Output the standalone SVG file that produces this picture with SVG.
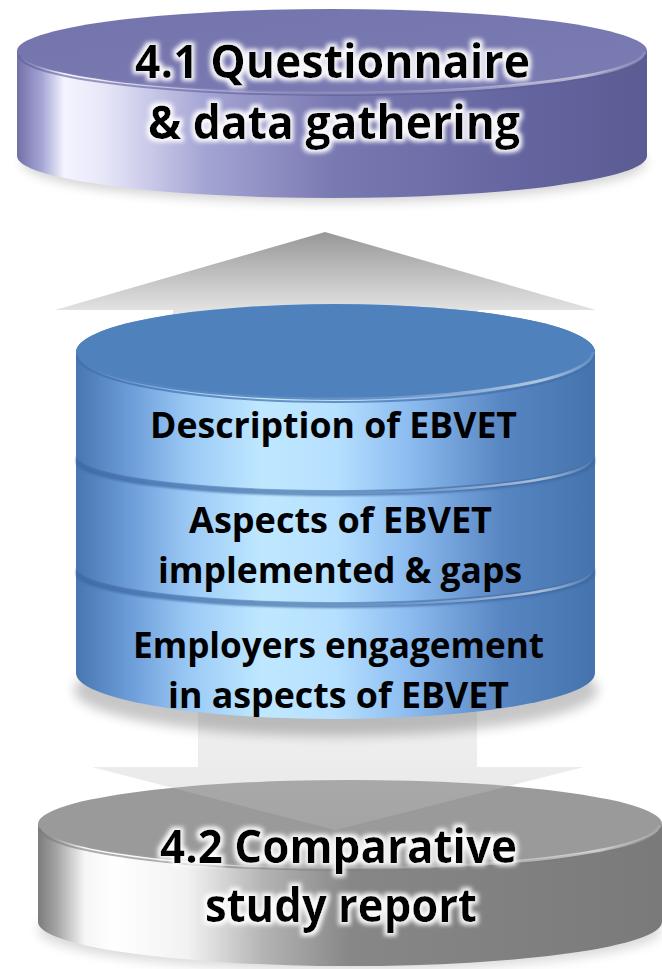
<svg xmlns="http://www.w3.org/2000/svg" width="662" height="969" viewBox="0 0 662 969">
<defs>
<style>
.t{font-family:"Open Sans","Noto Sans","Liberation Sans",sans-serif;font-weight:700;fill:#000;}
.big{font-size:46px;}
.mid{font-size:36px;}
</style>
<filter id="glow" x="-10%" y="-40%" width="120%" height="180%">
<feMorphology in="SourceAlpha" operator="dilate" radius="3" result="d"/>
<feGaussianBlur in="d" stdDeviation="2.2" result="b"/>
<feFlood flood-color="#ffffff" flood-opacity="0.95"/>
<feComposite in2="b" operator="in" result="g"/>
<feMerge><feMergeNode in="g"/><feMergeNode in="SourceGraphic"/></feMerge>
</filter>
<filter id="soft" x="-20%" y="-50%" width="140%" height="200%">
<feGaussianBlur stdDeviation="6"/>
</filter>
<filter id="bandBlur" x="-5%" y="-50%" width="110%" height="200%">
<feGaussianBlur stdDeviation="1.2"/>
</filter>
<linearGradient id="pSide" gradientUnits="userSpaceOnUse" x1="17" y1="0" x2="647" y2="0">
<stop offset="0" stop-color="#7070a6"/>
<stop offset="0.04" stop-color="#a6a6d6"/>
<stop offset="0.075" stop-color="#f4f4ff"/>
<stop offset="0.14" stop-color="#e6e6f8"/>
<stop offset="0.3" stop-color="#a4a4d4"/>
<stop offset="0.5" stop-color="#7a7ab2"/>
<stop offset="0.8" stop-color="#6464a0"/>
<stop offset="1" stop-color="#5c5c94"/>
</linearGradient>
<linearGradient id="pTop" x1="0" y1="0" x2="1" y2="1">
<stop offset="0" stop-color="#7474ac"/>
<stop offset="1" stop-color="#7c7cb4"/>
</linearGradient>
<linearGradient id="bSide" gradientUnits="userSpaceOnUse" x1="76" y1="0" x2="595" y2="0">
<stop offset="0" stop-color="#4776b0"/>
<stop offset="0.1" stop-color="#6b9bd8"/>
<stop offset="0.22" stop-color="#9ccaf6"/>
<stop offset="0.36" stop-color="#bfe8ff"/>
<stop offset="0.5" stop-color="#b6e0ff"/>
<stop offset="0.64" stop-color="#8cbcf0"/>
<stop offset="0.82" stop-color="#5886c2"/>
<stop offset="1" stop-color="#4573ad"/>
</linearGradient>
<linearGradient id="gSide" gradientUnits="userSpaceOnUse" x1="38" y1="0" x2="662" y2="0">
<stop offset="0" stop-color="#7c7c7c"/>
<stop offset="0.03" stop-color="#a4a4a4"/>
<stop offset="0.075" stop-color="#f6f6f6"/>
<stop offset="0.12" stop-color="#ffffff"/>
<stop offset="0.24" stop-color="#f2f2f2"/>
<stop offset="0.36" stop-color="#b4b4b4"/>
<stop offset="0.5" stop-color="#878787"/>
<stop offset="1" stop-color="#7a7a7a"/>
</linearGradient>
<linearGradient id="upArrow" gradientUnits="userSpaceOnUse" x1="0" y1="232" x2="0" y2="312">
<stop offset="0" stop-color="#979797"/>
<stop offset="1" stop-color="#e4e4e4"/>
</linearGradient>
<linearGradient id="downArrow" gradientUnits="userSpaceOnUse" x1="0" y1="700" x2="0" y2="830">
<stop offset="0" stop-color="#d6d6d6"/>
<stop offset="1" stop-color="#b8b8b8"/>
</linearGradient>
<linearGradient id="rimHi" x1="0" y1="0" x2="1" y2="0">
<stop offset="0" stop-color="#ffffff" stop-opacity="0"/>
<stop offset="0.6" stop-color="#ffffff" stop-opacity="0.15"/>
<stop offset="0.9" stop-color="#ffffff" stop-opacity="0.55"/>
<stop offset="1" stop-color="#ffffff" stop-opacity="0.1"/>
</linearGradient>
</defs>

<!-- top cylinder -->
<g id="node-questionnaire">
<ellipse cx="334" cy="162" rx="312" ry="40" fill="#000" opacity="0.18" filter="url(#soft)"/>
<path d="M17,51 V156 A315,42 0 0 0 647,156 V51 Z" fill="url(#pSide)"/>
<ellipse cx="332" cy="51" rx="315" ry="42" fill="url(#pTop)"/>
<path d="M19,55 A313,40 0 0 0 645,55" fill="none" stroke="#5e5e96" stroke-width="2" opacity="0.6"/>
<path d="M20,52 A312,41 0 0 0 644,52" fill="none" stroke="url(#rimHi)" stroke-width="3"/>
<g filter="url(#glow)">
<text class="t big" x="135" y="78" textLength="395" lengthAdjust="spacingAndGlyphs">4.1 Questionnaire</text>
<text class="t big" x="148" y="139" textLength="372" lengthAdjust="spacingAndGlyphs">&amp; data gathering</text>
</g>
</g>

<!-- bottom cylinder -->
<g id="node-report">
<ellipse cx="350" cy="930" rx="312" ry="40" fill="#000" opacity="0.15" filter="url(#soft)"/>
<path d="M38,824 V922 A312,44 0 0 0 662,922 V824 Z" fill="url(#gSide)"/>
<ellipse cx="350" cy="824" rx="312" ry="44" fill="#9a9a9a"/>
<path d="M40,828 A310,42 0 0 0 660,828" fill="none" stroke="#7c7c7c" stroke-width="2" opacity="0.6"/>
<path d="M41,825 A309,43 0 0 0 659,825" fill="none" stroke="url(#rimHi)" stroke-width="3"/>
<g filter="url(#glow)">
<text class="t big" x="160" y="863" textLength="357" lengthAdjust="spacingAndGlyphs">4.2 Comparative</text>
<text class="t big" x="205" y="922" textLength="272" lengthAdjust="spacingAndGlyphs">study report</text>
</g>
</g>

<!-- connectors -->
<g id="connectors">
<polygon id="arrow-up" points="325,232 596,310 478,310 478,420 173,420 173,310 55,310" fill="url(#upArrow)"/>
<polygon id="arrow-down" points="198,700 477,700 477,767 584,767 335,830 92,767 198,767" fill="url(#downArrow)" fill-opacity="0.34"/>
</g>

<!-- blue stack -->
<ellipse cx="336" cy="690" rx="262" ry="46" fill="#000" opacity="0.22" filter="url(#soft)"/>
<g id="node-employers">
<path d="M76,567 A259.5,36 0 0 1 595,567 V673 A259.5,46 0 0 1 76,673 Z" fill="url(#bSide)"/>
<path d="M76,567 A259.5,35 0 0 0 595,567 L595,574 A259.5,34 0 0 1 76,574 Z" fill="#3a68a3" opacity="0.75" filter="url(#bandBlur)"/>
<path d="M80,571 A255.5,34 0 0 0 591,571" fill="none" stroke="url(#rimHi)" stroke-width="2.5"/>
<text class="t mid" x="133" y="658" textLength="411" lengthAdjust="spacingAndGlyphs">Employers engagement</text>
<text class="t mid" x="168" y="708" textLength="341" lengthAdjust="spacingAndGlyphs">in aspects of EBVET</text>
</g>
<g id="node-aspects">
<path d="M76,455 A259.5,36 0 0 1 595,455 V567 A259.5,35 0 0 1 76,567 Z" fill="url(#bSide)"/>
<path d="M76,455 A259.5,35 0 0 0 595,455 L595,462 A259.5,34 0 0 1 76,462 Z" fill="#3a68a3" opacity="0.75" filter="url(#bandBlur)"/>
<path d="M80,459 A255.5,34 0 0 0 591,459" fill="none" stroke="url(#rimHi)" stroke-width="2.5"/>
<text class="t mid" x="189" y="533" textLength="303" lengthAdjust="spacingAndGlyphs">Aspects of EBVET</text>
<text class="t mid" x="158" y="583" textLength="364" lengthAdjust="spacingAndGlyphs">implemented &amp; gaps</text>
</g>
<g id="node-description">
<path d="M76,352 A259.5,48 0 0 1 595,352 V455 A259.5,35 0 0 1 76,455 Z" fill="url(#bSide)"/>
<ellipse cx="335.5" cy="352" rx="259.5" ry="48" fill="#4f81bd"/>
<path d="M77,355 A258.5,47 0 0 0 594,355" fill="none" stroke="#416fa8" stroke-width="2" opacity="0.7"/>
<path d="M78,352 A257.5,47 0 0 0 593,352" fill="none" stroke="url(#rimHi)" stroke-width="3"/>
<text class="t mid" x="150" y="438" textLength="367" lengthAdjust="spacingAndGlyphs">Description of EBVET</text>
</g>
</svg>
